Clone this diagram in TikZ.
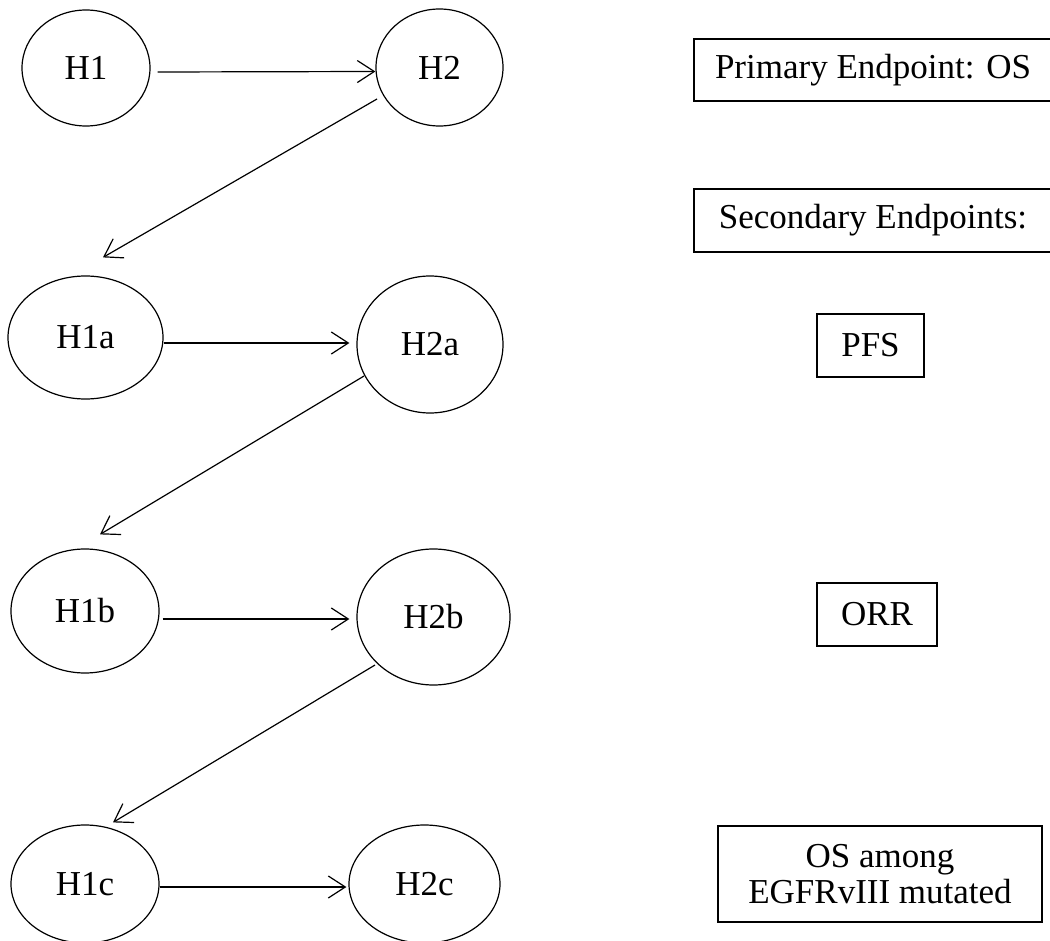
\documentclass[tikz,border=0pt]{standalone}
\usepackage{fontspec}
\setmainfont{Liberation Serif}
\usetikzlibrary{shapes.geometric,arrows.meta}
\begin{document}
\begin{tikzpicture}[x=1pt,y=-1pt,
  hyp/.style={draw, ellipse, line width=1.2pt, inner sep=0pt, font=\fontsize{35}{40}\selectfont},
  epbox/.style={draw, rectangle, line width=1.3pt, inner sep=0pt, align=center, font=\fontsize{35}{36}\selectfont},
  arr/.style={line width=1.2pt, -{Straight Barb[length=17pt,width=22pt,line width=1.2pt]}}]
\useasboundingbox (0,0) rectangle (1050,941);
% hypotheses
\node[hyp, minimum width=128pt, minimum height=116pt] (h1) at (86,68) {H1};
\node[hyp, minimum width=127pt, minimum height=117pt] (h2) at (439.5,67.5) {H2};
\node[hyp, minimum width=155pt, minimum height=123pt] (h1a) at (85.5,337.5) {H1a};
\node[hyp, minimum width=146pt, minimum height=137pt] (h2a) at (430,344.5) {H2a};
\node[hyp, minimum width=148pt, minimum height=124pt] (h1b) at (85,611) {H1b};
\node[hyp, minimum width=153pt, minimum height=136pt] (h2b) at (433.5,617) {H2b};
\node[hyp, minimum width=148pt, minimum height=118pt] (h1c) at (85,884) {H1c};
\node[hyp, minimum width=151pt, minimum height=118pt] (h2c) at (424.5,884) {H2c};
% endpoint boxes
\node[epbox, minimum width=358pt, minimum height=62pt] (prim) at (873,70) {Primary Endpoint: OS};
\node[epbox, minimum width=358pt, minimum height=63pt] (sec) at (873,220.5) {Secondary Endpoints:};
\node[epbox, minimum width=107pt, minimum height=63pt] (pfs) at (870.5,345.5) {PFS};
\node[epbox, minimum width=120pt, minimum height=63pt] (orr) at (877,614.5) {ORR};
\node[epbox, minimum width=324pt, minimum height=96pt] (egfr) at (880,874) {OS among\\EGFRvIII mutated};
% horizontal arrows
\draw[arr] ([xshift=7pt,yshift=-4pt]h1.east) -- ([yshift=-4pt]h2.west);
\draw[arr] ([yshift=-5.5pt]h1a.east) -- ([xshift=-7pt,yshift=1.5pt]h2a.west);
\draw[arr] ([xshift=3pt,yshift=-8pt]h1b.east) -- ([xshift=-7pt,yshift=-2pt]h2b.west);
\draw[arr] ([yshift=-3pt]h1c.east) -- ([xshift=-2pt,yshift=-3pt]h2c.west);
% diagonal arrows
\draw[arr] ([xshift=-62.5pt,yshift=-31.5pt]h2.center) -- ([xshift=17.5pt,yshift=18pt]h1a.north);
\draw[arr] ([xshift=-66pt,yshift=-31.5pt]h2a.center) -- ([xshift=15pt,yshift=14pt]h1b.north);
\draw[arr] ([xshift=-58.5pt,yshift=-48pt]h2b.center) -- ([xshift=28pt,yshift=2pt]h1c.north);
\end{tikzpicture}
\end{document}
